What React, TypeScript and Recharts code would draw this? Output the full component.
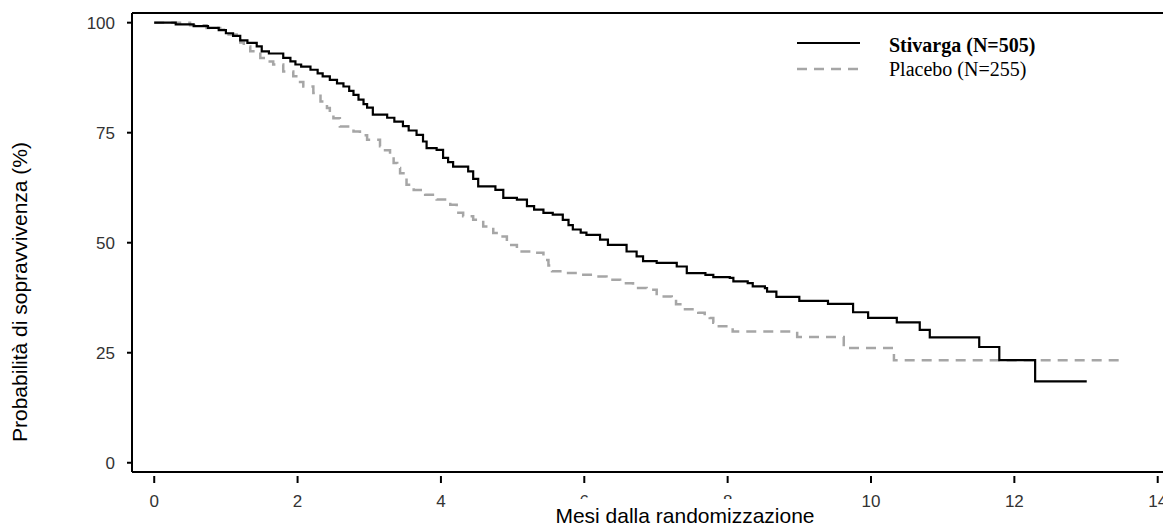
import { LineChart, Line, XAxis, YAxis, ReferenceLine, Legend } from "recharts";

// Kaplan-Meier steps (months, % survival)
const stivargaMonths = [
  0, 0.3, 0.55, 0.75, 0.9, 1.0, 1.1, 1.2, 1.3, 1.43, 1.5, 1.6, 1.8, 1.9, 1.97, 2.05, 2.18, 2.28, 2.35, 2.45,
  2.55, 2.64, 2.72, 2.78, 2.85, 2.92, 2.97, 3.05, 3.25, 3.35, 3.47, 3.55, 3.66, 3.75, 3.8, 3.94, 4.03, 4.1,
  4.17, 4.38, 4.45, 4.52, 4.76, 4.87, 5.06, 5.2, 5.3, 5.43, 5.56, 5.7, 5.78, 5.84, 5.95, 6.03, 6.22, 6.33,
  6.59, 6.73, 6.82, 7.01, 7.29, 7.43, 7.69, 7.8, 8.03, 8.08, 8.28, 8.35, 8.52, 8.55, 8.68, 9.0, 9.4, 9.75,
  9.96, 10.36, 10.68, 10.82, 11.51, 11.79, 12.29, 13.01,
];
const stivargaSurvival = [
  100, 99.6, 99.2, 98.8, 98.3, 97.6, 97.0, 96.0, 95.4, 94.6, 93.5, 93.0, 92.0, 91.2, 90.5, 90.0, 89.3, 88.5,
  87.8, 87.0, 86.2, 85.5, 84.5, 83.6, 82.5, 81.5, 80.7, 79.1, 78.4, 77.5, 76.5, 75.5, 74.5, 73.0, 71.5, 71.1,
  69.3, 68.3, 67.3, 66.2, 64.5, 62.8, 62.0, 60.2, 59.8, 58.3, 57.5, 56.8, 56.4, 55.2, 54.0, 53.0, 52.3, 51.8,
  50.7, 49.5, 48.0, 46.9, 45.8, 45.4, 44.6, 43.1, 42.7, 42.2, 42.0, 41.2, 40.8, 40.1, 39.7, 38.9, 37.7, 36.8,
  36.1, 34.2, 32.9, 31.9, 30.2, 28.5, 26.3, 23.3, 18.5, 18.5,
];

const placeboMonths = [
  0, 0.5, 0.73, 0.92, 1.01, 1.15, 1.2, 1.25, 1.34, 1.48, 1.57, 1.66, 1.8, 1.94, 2.0, 2.08, 2.22, 2.32, 2.41,
  2.45, 2.5, 2.59, 2.78, 2.87, 2.97, 3.15, 3.22, 3.29, 3.34, 3.39, 3.43, 3.52, 3.62, 3.78, 3.94, 4.13, 4.22,
  4.31, 4.45, 4.59, 4.73, 4.83, 4.92, 5.06, 5.29, 5.43, 5.5, 5.55, 5.71, 5.94, 6.13, 6.31, 6.5, 6.68, 6.87,
  7.01, 7.22, 7.28, 7.34, 7.59, 7.68, 7.75, 7.8, 7.82, 8.07, 8.97, 9.62, 10.32, 13.54,
];
const placeboSurvival = [
  100, 99.4, 98.8, 98.4, 97.3, 96.9, 95.5, 94.6, 93.5, 92.0, 91.2, 90.5, 88.9, 87.8, 86.5, 85.5, 84.0, 82.1,
  80.6, 79.5, 78.3, 76.4, 75.3, 74.4, 73.4, 71.9, 71.0, 70.0, 68.1, 67.0, 65.8, 63.2, 62.0, 60.9, 59.8, 58.6,
  56.8, 56.0, 55.2, 53.7, 52.2, 51.4, 49.5, 48.0, 47.7, 46.1, 44.8, 43.5, 43.1, 42.7, 42.3, 41.6, 40.8, 39.7,
  39.3, 37.8, 37.4, 36.0, 34.9, 34.1, 33.3, 32.9, 31.8, 31.0, 29.8, 28.6, 26.1, 23.3, 23.3,
];

const xTicks = [0, 2, 4, 6, 8, 10, 12, 14];
const yTicks = [0, 25, 50, 75, 100];
const seriesNames = ["Stivarga (N=505)", "Placebo (N=255)"];
const xTitle = "Mesi dalla randomizzazione";
const yTitle = "Probabilità di sopravvivenza (%)";

const X_DOMAIN: [number, number] = [-0.31, 14.59];
const Y_DOMAIN: [number, number] = [-2.1, 102.2];

const SANS = "'Liberation Sans', Arial, sans-serif";
const SERIF = "'Liberation Serif', 'Times New Roman', serif";

const stivarga = stivargaMonths.map((t, i) => ({ t, s: stivargaSurvival[i] }));
const placebo = placeboMonths.map((t, i) => ({ t, s: placeboSurvival[i] }));

function XTick({ x, y, payload }: any) {
  return (
    <g>
      <line x1={x} x2={x} y1={y + 4} y2={y + 11} stroke="#000" strokeWidth={2} />
      <text x={x} y={y + 35} textAnchor="middle" fontFamily={SANS} fontSize={17} fill="#333">
        {payload.value}
      </text>
    </g>
  );
}

function YTitle() {
  return (
    <text
      x={27}
      y={292}
      transform="rotate(-90, 27, 292)"
      textAnchor="middle"
      fontFamily={SANS}
      fontSize={21}
      fill="#000"
    >
      {yTitle}
    </text>
  );
}

function KmLegend() {
  return (
    <svg width={300} height={60} style={{ display: "block" }}>
      <line x1={0} x2={63} y1={13} y2={13} stroke="#000" strokeWidth={2.2} />
      <line x1={0} x2={63} y1={39} y2={39} stroke="#a6a6a6" strokeWidth={2.5} strokeDasharray="10 7" />
      <text x={92} y={21.5} fontFamily={SERIF} fontSize={20} fontWeight="bold" fill="#000">
        {seriesNames[0]}
      </text>
      <text x={92} y={46} fontFamily={SERIF} fontSize={20} fill="#000">
        {seriesNames[1]}
      </text>
    </svg>
  );
}

export default function App() {
  return (
    <div
      style={{
        position: "absolute",
        left: 0,
        top: 0,
        width: 1163,
        height: 529,
        overflow: "hidden",
        background: "#fff",
      }}
    >
      <LineChart width={1200} height={529} margin={{ top: 13, right: 0, left: 32, bottom: 0 }}>
        <XAxis
          dataKey="t"
          type="number"
          domain={X_DOMAIN}
          ticks={xTicks}
          interval={0}
          allowDataOverflow
          height={57}
          tickSize={0}
          tickMargin={0}
          tickLine={false}
          tick={<XTick />}
          axisLine={{ stroke: "#000", strokeWidth: 2 }}
        />
        <YAxis
          type="number"
          domain={Y_DOMAIN}
          ticks={yTicks}
          allowDataOverflow
          width={100}
          tickSize={5}
          tickMargin={12}
          tickLine={{ stroke: "#000", strokeWidth: 2 }}
          axisLine={{ stroke: "#000", strokeWidth: 2 }}
          tick={{ fontFamily: SANS, fontSize: 17, fill: "#333" }}
          label={<YTitle />}
        />
        <ReferenceLine y={Y_DOMAIN[1]} stroke="#000" strokeWidth={2} />
        <Legend
          verticalAlign="middle"
          align="center"
          content={<KmLegend />}
          wrapperStyle={{ left: 797, top: 30, width: 300 }}
        />
        <Line
          data={placebo}
          dataKey="s"
          name={seriesNames[1]}
          type="stepAfter"
          stroke="#a6a6a6"
          strokeWidth={2.5}
          strokeDasharray="10 7"
          dot={false}
          activeDot={false}
          isAnimationActive={false}
        />
        <Line
          data={stivarga}
          dataKey="s"
          name={seriesNames[0]}
          type="stepAfter"
          stroke="#000"
          strokeWidth={2.2}
          dot={false}
          activeDot={false}
          isAnimationActive={false}
        />
      </LineChart>
      {/* axis title sits in a white box over the 6 and 8 tick labels, as in the original */}
      <svg width={280} height={30} style={{ position: "absolute", left: 545, top: 499 }}>
        <rect x={0} y={0} width={280} height={30} fill="#fff" />
        <text x={140} y={24} textAnchor="middle" fontFamily={SANS} fontSize={21} fill="#000">
          {xTitle}
        </text>
      </svg>
    </div>
  );
}
